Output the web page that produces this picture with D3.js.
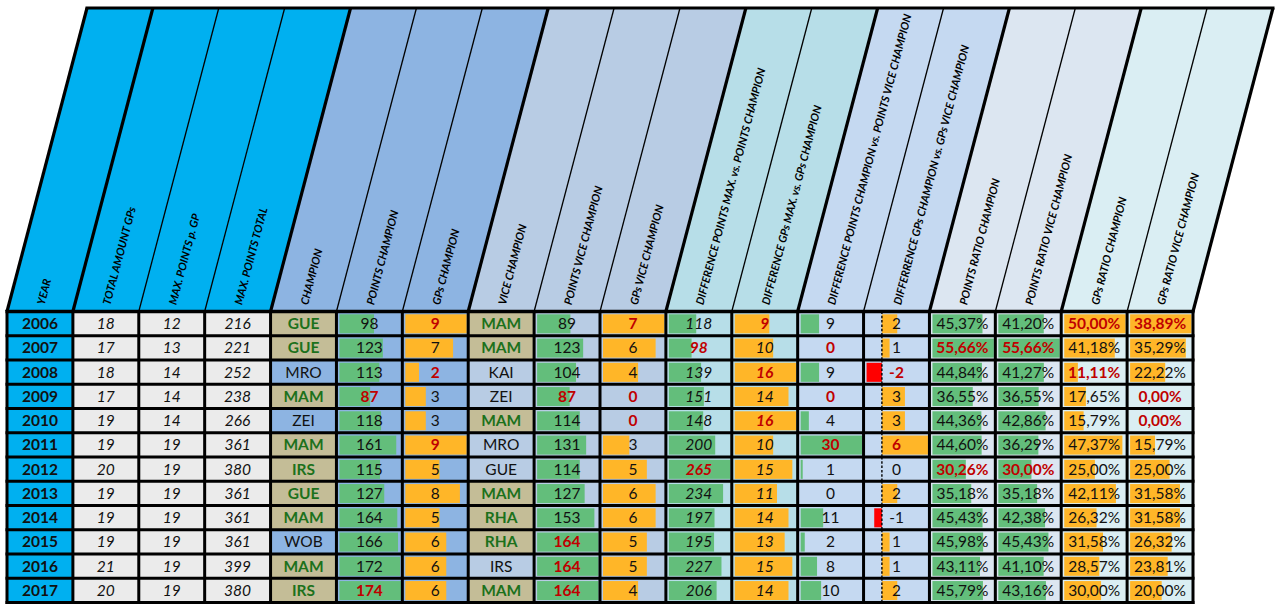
<!DOCTYPE html>
<html><head><meta charset="utf-8">
<script src="https://cdn.jsdelivr.net/npm/d3@7/dist/d3.min.js"></script>
<style>
body{margin:0;background:#fff}
svg{display:block;font-family:Lato,'Open Sans',sans-serif}
</style>
</head><body>
<svg id="chart" width="1283" height="610"></svg>
<script>
// ---------------- DATA ----------------
const years = [2006,2007,2008,2009,2010,2011,2012,2013,2014,2015,2016,2017];
const totalGPs = [18,17,18,17,19,19,20,19,19,19,21,20];
const maxPointsPerGP = [12,13,14,14,14,19,19,19,19,19,19,19];
const maxPointsTotal = [216,221,252,238,266,361,380,361,361,361,399,380];
const champion = ["GUE","GUE","MRO","MAM","ZEI","MAM","IRS","GUE","MAM","WOB","MAM","IRS"];
const championFlag = [1,1,0,1,0,1,1,1,1,0,1,1];
const pointsChampion = [98,123,113,87,118,161,115,127,164,166,172,174];
const gpsChampion = [9,7,2,3,3,9,5,8,5,6,6,6];
const viceChampion = ["MAM","MAM","KAI","ZEI","MAM","MRO","GUE","MAM","RHA","RHA","IRS","MAM"];
const viceFlag = [1,1,0,0,1,0,0,1,1,1,0,1];
const pointsVice = [89,123,104,87,114,131,114,127,153,164,164,164];
const gpsVice = [7,6,4,0,0,3,5,6,6,5,5,4];
const diffPointsMax = [118,98,139,151,148,200,265,234,197,195,227,206];
const diffGpsMax = [9,10,16,14,16,10,15,11,14,13,15,14];
const diffPointsChampVice = [9,0,9,0,4,30,1,0,11,2,8,10];
const diffGpsChampVice = [2,1,-2,3,3,6,0,2,-1,1,1,2];
const ratioPointsChampion = [45.37,55.66,44.84,36.55,44.36,44.60,30.26,35.18,45.43,45.98,43.11,45.79];
const ratioPointsVice = [41.20,55.66,41.27,36.55,42.86,36.29,30.00,35.18,42.38,45.43,41.10,43.16];
const ratioGpsChampion = [50.00,41.18,11.11,17.65,15.79,47.37,25.00,42.11,26.32,31.58,28.57,30.00];
const ratioGpsVice = [38.89,35.29,22.22,0.00,0.00,15.79,25.00,31.58,31.58,26.32,23.81,20.00];
// years whose value is flagged (extreme) in each column
const flaggedPointsChampion = [2009,2017];
const flaggedGpsChampion = [2006,2008,2011];
const flaggedPointsVice = [2009,2015,2016,2017];
const flaggedGpsVice = [2006,2009,2010];
const flaggedDiffPointsMax = [2007,2012];
const flaggedDiffGpsMax = [2006,2008,2010];
const flaggedDiffPointsCV = [2007,2009,2011];
const flaggedDiffGpsCV = [2008,2011];
const flaggedRatioPointsChampion = [2007,2012];
const flaggedRatioPointsVice = [2007,2012];
const flaggedRatioGpsChampion = [2006,2008];
const flaggedRatioGpsVice = [2006,2009,2010];
const headers = ["YEAR","TOTAL AMOUNT GPs","MAX. POINTS p. GP","MAX. POINTS TOTAL","CHAMPION","POINTS CHAMPION","GPs CHAMPION","VICE CHAMPION","POINTS VICE CHAMPION","GPs VICE CHAMPION","DIFFERENCE POINTS MAX. vs. POINTS CHAMPION","DIFFERENCE GPs MAX. vs. GPs CHAMPION","DIFFERENCE POINTS CHAMPION vs. POINTS VICE CHAMPION","DIFFERRENCE GPs CHAMPION vs. GPs VICE CHAMPION","POINTS RATIO CHAMPION","POINTS RATIO VICE CHAMPION","GPs RATIO CHAMPION","GPs RATIO VICE CHAMPION"];

// ---------------- STYLE ----------------
const C = {
  cyan:"#00B0F0", blue1:"#8DB4E2", blue2:"#B8CCE4", teal:"#B7DEE8", blue3:"#C5D9F1",
  pale1:"#DCE6F1", pale2:"#DAEEF3", gray:"#EBEBEB", tan:"#C4BD97",
  green:"#63BE7B", orange:"#FFB628", neg:"#FF0000", red:"#C00000", dgreen:"#1C711C"
};
const pct = v => d3.format(".2f")(v).replace(".", ",") + "%";

const columns = [
  {vals:years, head:C.cyan, bg:C.cyan, bold:true},
  {vals:totalGPs, head:C.cyan, bg:C.gray, italic:true},
  {vals:maxPointsPerGP, head:C.cyan, bg:C.gray, italic:true},
  {vals:maxPointsTotal, head:C.cyan, bg:C.gray, italic:true},
  {vals:champion, head:C.blue1, bg:C.blue1, flags:championFlag},
  {vals:pointsChampion, head:C.blue1, bg:C.blue1, bar:C.green, marks:flaggedPointsChampion},
  {vals:gpsChampion, head:C.blue1, bg:C.blue1, bar:C.orange, marks:flaggedGpsChampion},
  {vals:viceChampion, head:C.blue2, bg:C.blue2, flags:viceFlag},
  {vals:pointsVice, head:C.blue2, bg:C.blue2, bar:C.green, marks:flaggedPointsVice},
  {vals:gpsVice, head:C.blue2, bg:C.blue2, bar:C.orange, marks:flaggedGpsVice},
  {vals:diffPointsMax, head:C.teal, bg:C.teal, bar:C.green, italic:true, marks:flaggedDiffPointsMax},
  {vals:diffGpsMax, head:C.teal, bg:C.teal, bar:C.orange, italic:true, marks:flaggedDiffGpsMax},
  {vals:diffPointsChampVice, head:C.blue3, bg:C.blue3, bar:C.green, marks:flaggedDiffPointsCV},
  {vals:diffGpsChampVice, head:C.blue3, bg:C.blue3, bar:C.orange, axis:true, marks:flaggedDiffGpsCV},
  {vals:ratioPointsChampion, head:C.pale1, bg:C.pale1, bar:C.green, fmt:pct, marks:flaggedRatioPointsChampion},
  {vals:ratioPointsVice, head:C.pale1, bg:C.pale1, bar:C.green, fmt:pct, marks:flaggedRatioPointsVice},
  {vals:ratioGpsChampion, head:C.pale2, bg:C.pale2, bar:C.orange, fmt:pct, marks:flaggedRatioGpsChampion},
  {vals:ratioGpsVice, head:C.pale2, bg:C.pale2, bar:C.orange, fmt:pct, marks:flaggedRatioGpsVice}
];
const thickBounds = new Set([0,1,4,7,10,12,14,16,18]);

// ---------------- LAYOUT ----------------
const svg = d3.select("#chart");
const nCol = columns.length;
const colX = d3.scaleLinear().domain([0, nCol]).range([7, 1193]);
const rowY = d3.scaleBand().domain(years).range([311.5, 602.5]);
const rh = rowY.bandwidth();
const headTop = 8, headBot = 311.5, shift = 80;
const angle = Math.atan2(headBot - headTop, shift) * 180 / Math.PI;

// header parallelograms
const hg = svg.append("g");
columns.forEach((c, i) => {
  const x0 = colX(i), x1 = colX(i + 1);
  hg.append("path")
    .attr("d", `M${x0},${headBot}L${x1},${headBot}L${x1+shift},${headTop}L${x0+shift},${headTop}Z`)
    .attr("fill", c.head);
});
for (let i = 0; i <= nCol; i++) {
  const x = colX(i);
  hg.append("line").attr("x1", x).attr("y1", headBot).attr("x2", x + shift).attr("y2", headTop)
    .attr("stroke", "#000").attr("stroke-width", thickBounds.has(i) ? 3.2 : 1.3);
}
hg.append("line").attr("x1", colX(0) + shift - 1.5).attr("x2", colX(nCol) + shift + 1.5)
  .attr("y1", headTop).attr("y2", headTop).attr("stroke", "#000").attr("stroke-width", 3);
headers.forEach((h, i) => {
  const cx = (colX(i) + colX(i + 1)) / 2;
  hg.append("text")
    .attr("transform", `translate(${cx + 4.5},${headBot - 6}) rotate(${-angle})`)
    .attr("font-size", 11).attr("font-style", "italic").attr("font-weight", 700)
    .attr("fill", "#000").text(h);
});

// body cells
const bg = svg.append("g");
columns.forEach((c, i) => {
  const x0 = colX(i), x1 = colX(i + 1);
  years.forEach((yr, r) => {
    const y0 = rowY(yr);
    const fill = c.flags ? (c.flags[r] ? C.tan : c.bg) : c.bg;
    bg.append("rect").attr("x", x0).attr("y", y0).attr("width", x1 - x0).attr("height", rh).attr("fill", fill);
  });
  if (c.bar) {
    const mn = Math.min(0, d3.min(c.vals)), mx = d3.max(c.vals);
    const s = d3.scaleLinear().domain([mn, mx]).range([x0 + 3, x1 - 1.5]);
    years.forEach((yr, r) => {
      const v = c.vals[r];
      if (v === 0) return;
      const a = s(Math.min(0, v)), b = s(Math.max(0, v));
      bg.append("rect").attr("x", a).attr("y", rowY(yr) + 2.8).attr("width", b - a).attr("height", rh - 5.2)
        .attr("fill", v < 0 ? C.neg : c.bar);
    });
    if (c.axis) {
      years.forEach(yr => {
        bg.append("line").attr("x1", s(0)).attr("x2", s(0)).attr("y1", rowY(yr)).attr("y2", rowY(yr) + rh)
          .attr("stroke", "#000").attr("stroke-width", 1.4).attr("stroke-dasharray", "2.5,1.8");
      });
    }
  }
  years.forEach((yr, r) => {
    const v = c.vals[r];
    const flagged = c.marks && c.marks.includes(yr);
    const named = !!c.flags;
    const t = bg.append("text")
      .attr("x", (x0 + x1) / 2).attr("y", rowY(yr) + rh / 2 + 5.4)
      .attr("text-anchor", "middle").attr("font-size", 15.5)
      .text(c.fmt ? c.fmt(v) : v);
    let weight = c.bold ? 700 : 400, color = "#111";
    if (named && c.flags[r]) { weight = 700; color = C.dgreen; }
    if (flagged) { weight = 700; color = C.red; }
    t.attr("font-weight", weight).attr("fill", color);
    if (c.italic) t.attr("font-style", "italic");
  });
});

// grid lines
const gl = svg.append("g").attr("stroke", "#000");
for (let i = 0; i <= nCol; i++) {
  gl.append("line").attr("x1", colX(i)).attr("x2", colX(i)).attr("y1", headBot - 1.5).attr("y2", 602.5 + 1.5)
    .attr("stroke-width", 3);
}
[...years.map(y => rowY(y)), 602.5].forEach((y, k) => {
  gl.append("line").attr("x1", colX(0) - 1.5).attr("x2", colX(nCol) + 1.5).attr("y1", y).attr("y2", y)
    .attr("stroke-width", k === 0 ? 3.4 : 3);
});
</script>
</body></html>
